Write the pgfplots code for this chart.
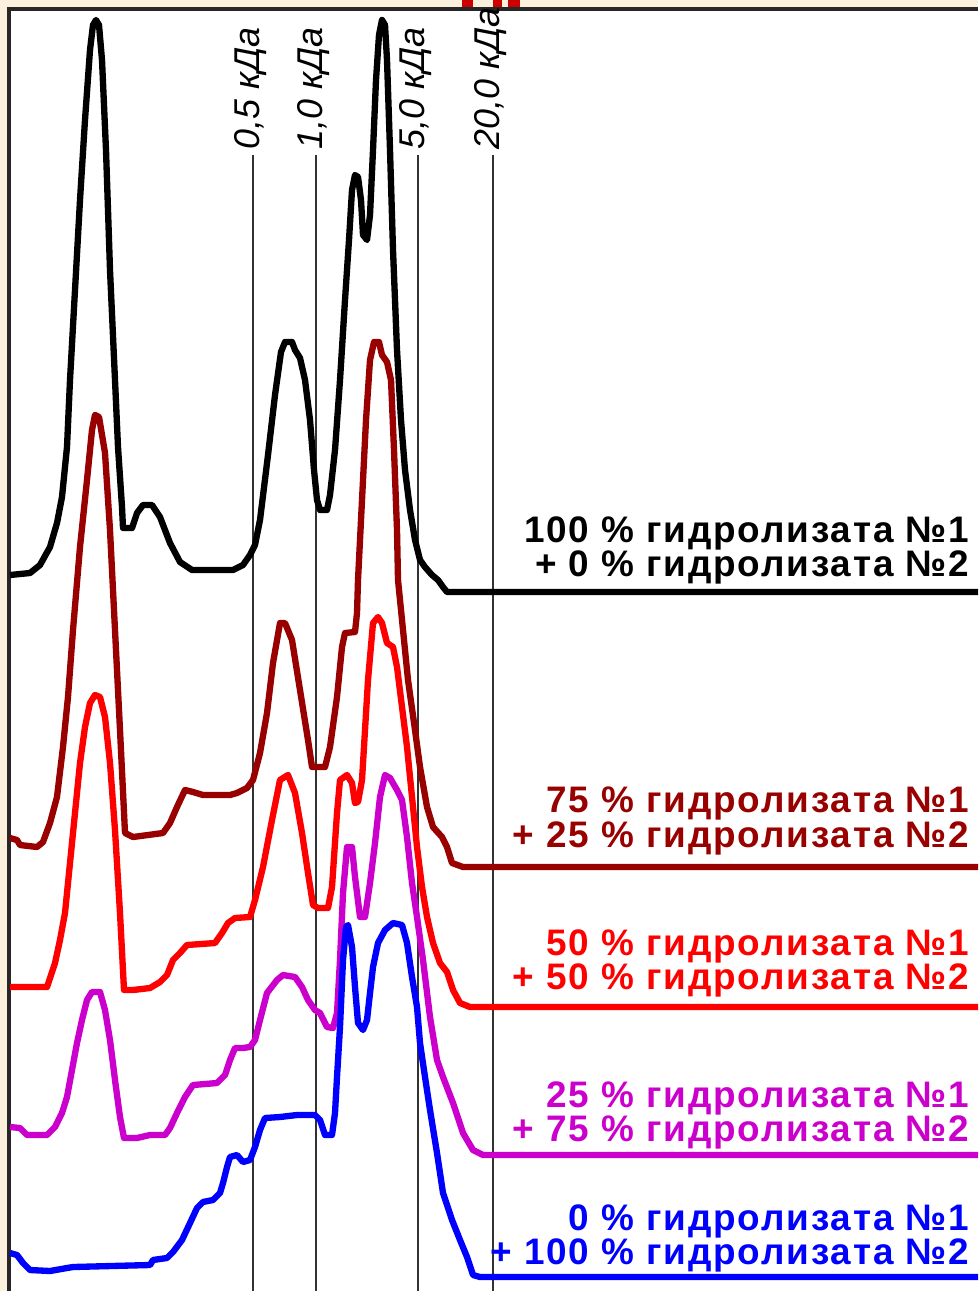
\documentclass[border=0pt]{standalone}
\usepackage{pgfplots}
\pgfplotsset{compat=1.18}
\usepackage{fontspec}
\setmainfont{Liberation Sans}
\definecolor{cream}{RGB}{250,240,220}
\definecolor{dred}{RGB}{153,0,0}
\definecolor{mag}{RGB}{204,0,204}
\definecolor{vline}{RGB}{50,50,50}
\begin{document}
\begin{tikzpicture}
\begin{axis}[
  scale only axis, width=9.78cm, height=12.91cm,
  xmin=0, xmax=978, ymin=0, ymax=1291, y dir=reverse,
  axis lines=none, ticks=none, clip mode=individual,
  every axis plot/.append style={line width=1.8pt, line join=round, mark=none},
]
\coordinate (BL) at (axis cs:0,1291);
\coordinate (TR) at (axis cs:978,0);
% background
\fill[cream] (axis cs:0,0) rectangle (axis cs:978,1291);
\fill[white] (axis cs:9,9) rectangle (axis cs:978,1291);
\draw[line width=1pt, black!85] (axis cs:9,1291) -- (axis cs:9,9) -- (axis cs:978,9);
\fill[red!80!black] (axis cs:462,0) rectangle (axis cs:473,7);
\fill[red!80!black] (axis cs:493,0) rectangle (axis cs:502,7);
\fill[red!80!black] (axis cs:508,0) rectangle (axis cs:520,7);
% marker lines
\draw[vline, line width=0.65pt] (axis cs:253,155) -- (axis cs:253,1291);
\draw[vline, line width=0.65pt] (axis cs:316,155) -- (axis cs:316,1291);
\draw[vline, line width=0.65pt] (axis cs:418,155) -- (axis cs:418,1291);
\draw[vline, line width=0.65pt] (axis cs:493,155) -- (axis cs:493,1291);
\tikzset{kda/.style={rotate=90, anchor=west, inner sep=0pt, font=\fontsize{10.2}{12}\selectfont\itshape}}
\node[kda] at (axis cs:251,150) {0,5 кДа};
\node[kda] at (axis cs:314,150) {1,0 кДа};
\node[kda] at (axis cs:416,150) {5,0 кДа};
\node[kda] at (axis cs:491,150) {20,0 кДа};

% 100/0
\addplot[black] coordinates {(10,575)(30,573)(40,565)(50,547)(57,523)(62,497)(67,447)(70,380)(75,290)(80,200)(85,120)(90,50)(93,25)(96,20)(99,25)(102,60)(106,150)(110,270)(115,380)(118,447)(122,507)(123,528)(132,528)(137,513)(143,505)(152,505)(160,517)(170,543)(180,562)(192,570)(233,570)(243,565)(250,555)(255,545)(260,520)(268,455)(275,395)(281,352)(285,342)(292,342)(295,350)(300,358)(305,380)(310,420)(314,470)(317,500)(320,510)(327,510)(330,495)(335,450)(340,380)(345,300)(349,240)(352,190)(355,175)(358,177)(361,200)(363,235)(367,240)(370,215)(373,150)(376,80)(379,35)(382,20)(385,25)(387,60)(390,150)(393,250)(397,350)(401,420)(405,470)(410,510)(415,540)(420,560)(425,567)(432,575)(438,580)(443,587)(447,592)(978,592)};
% 75/25
\addplot[dred] coordinates {(10,838)(17,840)(20,845)(37,847)(43,842)(50,823)(57,797)(63,747)(68,697)(73,630)(80,547)(87,480)(92,430)(95,415)(99,417)(105,453)(110,530)(115,630)(120,730)(125,833)(133,837)(163,833)(170,823)(177,807)(185,790)(193,792)(203,795)(230,795)(237,793)(247,788)(253,780)(260,753)(267,713)(273,663)(280,623)(285,623)(292,640)(300,690)(308,740)(312,767)(325,767)(330,747)(337,697)(342,647)(345,633)(355,632)(357,613)(358,580)(362,500)(366,420)(370,360)(374,342)(379,342)(382,355)(387,362)(391,380)(394,450)(397,530)(398,580)(403,630)(408,680)(415,730)(420,767)(427,807)(433,827)(442,837)(447,847)(452,863)(463,867)(978,867)};
% 50/50
\addplot[red] coordinates {(10,987)(47,987)(50,978)(55,963)(60,940)(65,913)(70,863)(75,813)(80,763)(85,727)(90,703)(95,695)(100,697)(105,717)(110,763)(115,830)(120,913)(124,990)(133,990)(150,988)(160,982)(167,975)(173,960)(180,953)(187,945)(215,943)(222,933)(228,923)(235,918)(250,917)(255,900)(263,867)(272,820)(280,780)(288,775)(295,793)(302,833)(308,873)(313,905)(318,908)(328,908)(332,887)(337,813)(340,780)(347,775)(352,783)(355,803)(358,802)(362,780)(365,730)(368,680)(373,623)(378,617)(382,623)(387,643)(393,647)(397,667)(402,707)(407,747)(412,797)(417,847)(422,887)(427,917)(433,943)(440,963)(447,972)(453,990)(460,1003)(470,1007)(978,1007)};
% 25/75
\addplot[mag] coordinates {(10,1127)(20,1128)(27,1135)(47,1135)(55,1127)(62,1113)(67,1097)(72,1070)(77,1043)(82,1020)(87,1000)(92,992)(100,992)(105,1010)(110,1040)(115,1080)(120,1117)(124,1138)(137,1138)(150,1135)(165,1135)(170,1128)(177,1113)(185,1097)(193,1085)(217,1083)(225,1075)(230,1060)(235,1048)(243,1048)(250,1047)(255,1040)(260,1020)(267,993)(277,980)(283,975)(295,977)(302,987)(308,1000)(315,1010)(320,1013)(327,1027)(333,1028)(337,1013)(340,960)(343,893)(347,847)(352,847)(355,877)(360,917)(365,917)(370,883)(375,843)(380,797)(385,775)(390,778)(397,790)(402,800)(407,837)(412,883)(417,917)(423,960)(430,1017)(437,1060)(443,1077)(453,1103)(463,1133)(473,1150)(483,1155)(978,1155)};
% 0/100
\addplot[blue] coordinates {(10,1253)(17,1255)(23,1263)(30,1270)(50,1271)(67,1268)(73,1267)(150,1265)(153,1260)(167,1258)(173,1252)(182,1240)(190,1223)(197,1208)(203,1202)(213,1200)(220,1193)(223,1183)(227,1167)(230,1157)(237,1155)(243,1162)(250,1160)(255,1147)(260,1130)(265,1118)(280,1117)(297,1115)(315,1115)(320,1120)(325,1135)(332,1135)(335,1113)(337,1077)(340,1027)(343,960)(346,927)(348,925)(352,947)(355,987)(358,1023)(363,1030)(367,1020)(370,993)(373,967)(378,943)(385,930)(393,923)(402,925)(407,943)(412,977)(417,1007)(420,1043)(425,1077)(430,1110)(437,1153)(443,1193)(452,1220)(460,1240)(467,1257)(473,1275)(480,1277)(978,1277)};

\tikzset{lab/.style={anchor=east, align=right, inner sep=0pt, font=\fontsize{10.5}{9.7}\selectfont\bfseries\addfontfeatures{LetterSpace=5}}}
\node[lab, black] at (axis cs:970,550) {100 \% гидролизата №1\\+ 0 \% гидролизата №2};
\node[lab, dred] at (axis cs:970,821) {75 \% гидролизата №1\\+ 25 \% гидролизата №2};
\node[lab, red] at (axis cs:970,963) {50 \% гидролизата №1\\+ 50 \% гидролизата №2};
\node[lab, mag] at (axis cs:970,1115) {25 \% гидролизата №1\\+ 75 \% гидролизата №2};
\node[lab, blue] at (axis cs:970,1238) {0 \% гидролизата №1\\+ 100 \% гидролизата №2};
\end{axis}
\pgfresetboundingbox
\path (BL) rectangle (TR);
\end{tikzpicture}
\end{document}
